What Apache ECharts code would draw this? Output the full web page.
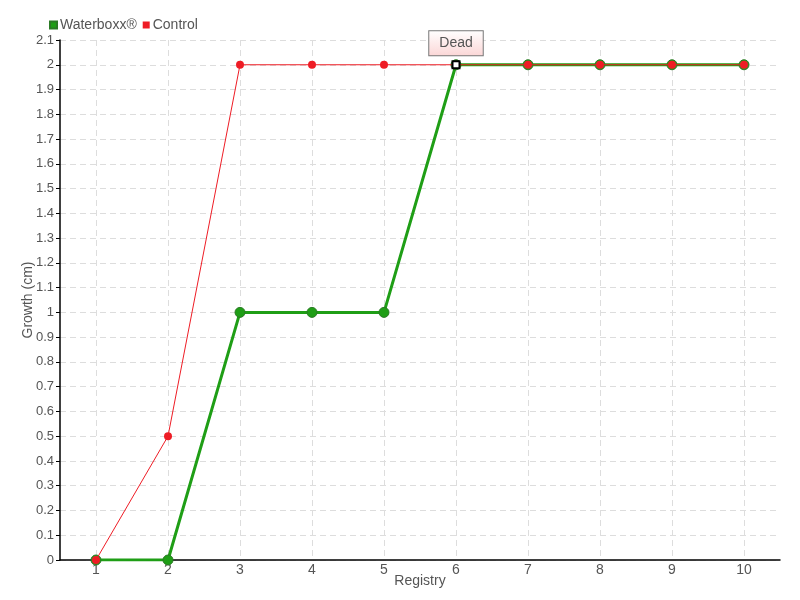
<!DOCTYPE html>
<html>
<head>
<meta charset="utf-8">
<script src="https://cdn.jsdelivr.net/npm/echarts@6/dist/echarts.min.js"></script>
<style>
  html, body { margin: 0; padding: 0; background: #fff; }
  #chart { width: 800px; height: 600px; }
</style>
</head>
<body>
<div id="chart"></div>
<script>
// registry number on x axis
const registry = ['1', '2', '3', '4', '5', '6', '7', '8', '9', '10']
// growth in cm
const waterboxx = [0, 0, 1, 1, 1, 2, 2, 2, 2, 2]
const control = [0, 0.5, 2, 2, 2, 2, 2, 2, 2, 2]
// the plant that died
const deadAt = ['6', 2]
const deadLabel = 'Dead'

const font = '"Liberation Sans Narrow", "Liberation Sans", sans-serif'
const textColor = '#555'

const chart = echarts.init(document.getElementById('chart'))
const option = {
    animation: false,
    textStyle: { fontFamily: font },
    legend: {
        left: 44,
        top: 13,
        itemWidth: 7,
        itemHeight: 7,
        itemGap: 6,
        textStyle: { color: textColor, fontSize: 14, fontFamily: font, padding: [0, 0, 0, -2] },
        data: [
            { name: 'Waterboxx®', icon: 'rect' },
            { name: 'Control', icon: 'rect' }
        ]
    },
    grid: { left: 60, right: 20, top: 40, bottom: 40, containLabel: false, outerBoundsMode: 'none' },
    xAxis: {
        type: 'category',
        data: registry,
        boundaryGap: true,
        name: 'Registry',
        nameLocation: 'middle',
        nameGap: 14,
        nameMoveOverlap: false,
        nameTextStyle: { color: textColor, fontSize: 14, fontFamily: font },
        axisLine: { lineStyle: { color: '#000', width: 1.5 } },
        axisTick: { alignWithLabel: true, length: 5, lineStyle: { color: '#000' } },
        axisLabel: { color: textColor, fontSize: 14, margin: 3, fontFamily: font },
        splitLine: { show: true, alignWithLabel: true, lineStyle: { color: '#ddd', type: [6, 4] } }
    },
    yAxis: {
        type: 'value',
        min: 0,
        max: 2.1,
        interval: 0.1,
        name: 'Growth (cm)',
        nameLocation: 'middle',
        nameGap: 25,
        nameMoveOverlap: false,
        nameTextStyle: { color: textColor, fontSize: 14, fontFamily: font },
        axisLine: { show: true, lineStyle: { color: '#000', width: 1.5 } },
        axisTick: { show: true, length: 4, lineStyle: { color: '#000' } },
        axisLabel: { color: textColor, fontSize: 13, margin: 6, fontFamily: font },
        splitLine: { lineStyle: { color: '#ddd', type: [6, 4] } }
    },
    series: [
        {
            name: 'Waterboxx®',
            type: 'line',
            data: waterboxx,
            color: '#1f9e16',
            symbol: 'circle',
            symbolSize: 10,
            lineStyle: { width: 3, color: '#1f9e16' },
            itemStyle: { color: '#1f9e16', borderColor: '#2b7a25', borderWidth: 1 },
            z: 2,
            markPoint: {
                symbol: 'rect',
                symbolSize: 7,
                itemStyle: { color: '#fff', borderColor: '#000', borderWidth: 2 },
                label: {
                    show: true,
                    position: 'top',
                    distance: 5,
                    formatter: deadLabel,
                    color: textColor,
                    fontSize: 14,
                    fontFamily: font,
                    padding: [5, 10, 5, 10],
                    borderColor: '#777',
                    borderWidth: 1,
                    backgroundColor: new echarts.graphic.LinearGradient(0, 0, 0, 1, [
                        { offset: 0, color: '#ffffff' },
                        { offset: 1, color: '#fbd6d6' }
                    ])
                },
                data: [{ coord: deadAt, value: deadLabel }]
            }
        },
        {
            name: 'Control',
            type: 'line',
            data: control,
            color: '#ee1c25',
            symbol: 'circle',
            symbolSize: 8,
            lineStyle: { width: 1, color: '#ee1c25' },
            itemStyle: { color: '#ee1c25' },
            z: 3
        }
    ]
}
chart.setOption(option)
</script>
</body>
</html>
